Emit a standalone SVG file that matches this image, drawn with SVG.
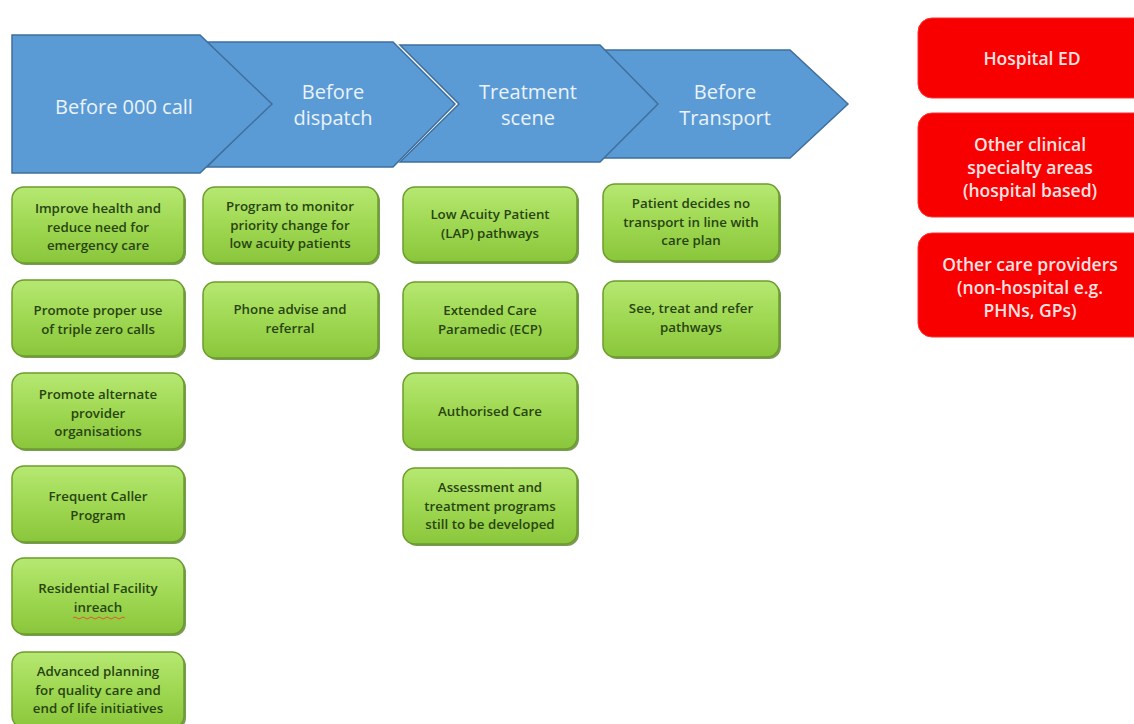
<svg xmlns="http://www.w3.org/2000/svg" width="1134" height="724" viewBox="0 0 1134 724">
<defs>
<linearGradient id="gg" x1="0" y1="0" x2="0" y2="1">
<stop offset="0" stop-color="#B6E872"/>
<stop offset="0.5" stop-color="#9FD852"/>
<stop offset="1" stop-color="#8AC63C"/>
</linearGradient>
<style>
.chev{fill:#5B9BD5;stroke:#3F6F9E;stroke-width:1.5;stroke-linejoin:miter}
.ct{font-family:"Open Sans","Liberation Sans",sans-serif;font-size:20px;font-weight:500;fill:#EAF2FB;text-anchor:middle}
.gs{fill:#4E7A1C;opacity:0.75}
.gb{fill:url(#gg);stroke:#6C9C2C;stroke-width:1.5}
.gt{font-family:"Open Sans","Liberation Sans",sans-serif;font-size:13.3px;font-weight:600;fill:#284410;text-anchor:middle}
.rb{fill:#F80000;stroke:#FF3030;stroke-width:1}
.rt{font-family:"Open Sans","Liberation Sans",sans-serif;font-size:17.5px;font-weight:600;fill:#FFE2E2;text-anchor:middle}
</style>
</defs>
<rect width="1134" height="724" fill="#FFFFFF"/>

<g id="stages">
<g id="stage4">
<polygon class="chev" points="600,50 790,50 848,104 790,158 600,158 654,104"/>
<text class="ct" x="725" y="99">Before</text>
<text class="ct" x="725" y="125">Transport</text>
</g>
<g id="stage3">
<polygon class="chev" points="400,45 600,45 658,104 600,162 400,162 459,104"/>
<text class="ct" x="528" y="99">Treatment</text>
<text class="ct" x="528" y="125">scene</text>
</g>
<g id="stage2">
<polygon class="chev" points="207,42 393,42 455,104 393,167 207,167 269,104"/>
<text class="ct" x="333" y="99">Before</text>
<text class="ct" x="333" y="125">dispatch</text>
</g>
<g id="stage1">
<polygon class="chev" points="12,35 200,35 272,104 200,173 12,173"/>
<text class="ct" x="124" y="114">Before 000 call</text>
</g>
</g>

<g id="c1r1"><rect class="gs" x="14" y="189" width="172" height="76" rx="12"/><rect class="gb" x="12" y="187" width="172" height="76" rx="12"/>
<text class="gt" x="98" y="213">Improve health and</text><text class="gt" x="98" y="231.5">reduce need for</text><text class="gt" x="98" y="250">emergency care</text></g>
<g id="c1r2"><rect class="gs" x="14" y="282" width="172" height="76" rx="12"/><rect class="gb" x="12" y="280" width="172" height="76" rx="12"/>
<text class="gt" x="98" y="315">Promote proper use</text><text class="gt" x="98" y="334">of triple zero calls</text></g>
<g id="c1r3"><rect class="gs" x="14" y="375" width="172" height="76" rx="12"/><rect class="gb" x="12" y="373" width="172" height="76" rx="12"/>
<text class="gt" x="98" y="399">Promote alternate</text><text class="gt" x="98" y="417.5">provider</text><text class="gt" x="98" y="436">organisations</text></g>
<g id="c1r4"><rect class="gs" x="14" y="468" width="172" height="76" rx="12"/><rect class="gb" x="12" y="466" width="172" height="76" rx="12"/>
<text class="gt" x="98" y="501">Frequent Caller</text><text class="gt" x="98" y="520">Program</text></g>
<g id="c1r5"><rect class="gs" x="14" y="560" width="172" height="76" rx="12"/><rect class="gb" x="12" y="558" width="172" height="76" rx="12"/>
<text class="gt" x="98" y="593">Residential Facility</text><text class="gt" x="98" y="612">inreach</text>
<path d="M73,618 q2,-2 4,0 t4,0 t4,0 t4,0 t4,0 t4,0 t4,0 t4,0 t4,0 t4,0 t4,0 t4,0 t4,0" fill="none" stroke="#E0582A" stroke-width="1"/></g>
<g id="c1r6"><rect class="gs" x="14" y="654" width="172" height="76" rx="12"/><rect class="gb" x="12" y="652" width="172" height="76" rx="12"/>
<text class="gt" x="98" y="676">Advanced planning</text><text class="gt" x="98" y="694.5">for quality care and</text><text class="gt" x="98" y="713">end of life initiatives</text></g>

<g id="c2r1"><rect class="gs" x="205" y="189" width="175" height="76" rx="12"/><rect class="gb" x="203" y="187" width="175" height="76" rx="12"/>
<text class="gt" x="290" y="211">Program to monitor</text><text class="gt" x="290" y="229.5">priority change for</text><text class="gt" x="290" y="248">low acuity patients</text></g>
<g id="c2r2"><rect class="gs" x="205" y="284" width="175" height="76" rx="12"/><rect class="gb" x="203" y="282" width="175" height="76" rx="12"/>
<text class="gt" x="290" y="314">Phone advise and</text><text class="gt" x="290" y="333">referral</text></g>

<g id="c3r1"><rect class="gs" x="405" y="189" width="174" height="75" rx="12"/><rect class="gb" x="403" y="187" width="174" height="75" rx="12"/>
<text class="gt" x="490" y="219">Low Acuity Patient</text><text class="gt" x="490" y="238">(LAP) pathways</text></g>
<g id="c3r2"><rect class="gs" x="405" y="284" width="174" height="76" rx="12"/><rect class="gb" x="403" y="282" width="174" height="76" rx="12"/>
<text class="gt" x="490" y="315">Extended Care</text><text class="gt" x="490" y="334">Paramedic (ECP)</text></g>
<g id="c3r3"><rect class="gs" x="405" y="375" width="174" height="76" rx="12"/><rect class="gb" x="403" y="373" width="174" height="76" rx="12"/>
<text class="gt" x="490" y="416">Authorised Care</text></g>
<g id="c3r4"><rect class="gs" x="405" y="470" width="174" height="76" rx="12"/><rect class="gb" x="403" y="468" width="174" height="76" rx="12"/>
<text class="gt" x="490" y="492">Assessment and</text><text class="gt" x="490" y="510.5">treatment programs</text><text class="gt" x="490" y="529">still to be developed</text></g>

<g id="c4r1"><rect class="gs" x="605" y="186" width="176" height="77" rx="12"/><rect class="gb" x="603" y="184" width="176" height="77" rx="12"/>
<text class="gt" x="691" y="208">Patient decides no</text><text class="gt" x="691" y="226.5">transport in line with</text><text class="gt" x="691" y="245">care plan</text></g>
<g id="c4r2"><rect class="gs" x="605" y="283" width="176" height="76" rx="12"/><rect class="gb" x="603" y="281" width="176" height="76" rx="12"/>
<text class="gt" x="691" y="313">See, treat and refer</text><text class="gt" x="691" y="332">pathways</text></g>

<g id="r1"><rect class="rb" x="918" y="18" width="230" height="80" rx="14"/>
<text class="rt" x="1032" y="65">Hospital ED</text></g>
<g id="r2"><rect class="rb" x="918" y="113" width="230" height="104" rx="14"/>
<text class="rt" x="1030" y="151">Other clinical</text><text class="rt" x="1030" y="174">specialty areas</text><text class="rt" x="1030" y="197">(hospital based)</text></g>
<g id="r3"><rect class="rb" x="918" y="233" width="230" height="104" rx="14"/>
<text class="rt" x="1030" y="271">Other care providers</text><text class="rt" x="1030" y="294">(non-hospital e.g.</text><text class="rt" x="1030" y="317">PHNs, GPs)</text></g>

<g id="connectors"/>
</svg>
